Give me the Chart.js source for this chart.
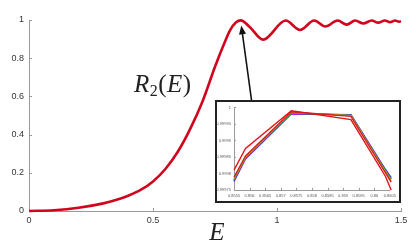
<!DOCTYPE html>
<html>
<head>
<meta charset="utf-8">
<script src="https://cdn.jsdelivr.net/npm/chart.js@4.4.0/dist/chart.umd.min.js"></script>
<style>
  html, body { margin: 0; padding: 0; background: #fff; }
  #wrap { position: relative; width: 416px; height: 245px; overflow: hidden; }
  #mainChart { position: absolute; left: 0; top: 0; }
  #insetBox { position: absolute; left: 215px; top: 100px; width: 186px; height: 103px; box-sizing: border-box; border: 2px solid #222; background: #fff; }
  #insetChart { display: block; }
</style>
</head>
<body>
<div id="wrap">
  <canvas id="mainChart" width="416" height="245"></canvas>
  <div id="insetBox"><canvas id="insetChart" width="182" height="99"></canvas></div>
</div>
<script>
// main curve R2(E)
const mainE = [0, 0.1, 0.2, 0.3, 0.35, 0.4, 0.45, 0.5, 0.55, 0.6, 0.65, 0.7, 0.75, 0.785, 0.81, 0.835, 0.854,
  0.891, 0.944, 1.035, 1.093, 1.15, 1.195, 1.245, 1.281, 1.315, 1.348, 1.382, 1.408, 1.435, 1.456, 1.476, 1.492, 1.5];
const mainR = [0, 0.004, 0.017, 0.04, 0.057, 0.08, 0.11, 0.155, 0.22, 0.31, 0.43, 0.575, 0.755, 0.87, 0.945, 0.988, 0.998,
  0.962, 0.897, 0.997, 0.948, 0.997, 0.966, 0.997, 0.976, 0.997, 0.982, 0.997, 0.986, 0.997, 0.989, 0.997, 0.991, 0.994];

const mainXTicks = [0, 0.5, 1, 1.5];
const mainXLabels = ['0', '0.5', '1', '1.5'];
const mainYTicks = [0, 0.2, 0.4, 0.6, 0.8, 1];
const mainYLabels = ['0', '0.2', '0.4', '0.6', '0.8', '1'];
const peakE = 0.854;
const peakR = 0.998;

// inset: zoom on the first peak
const insetE = [0.8555, 0.85587, 0.85734, 0.85925, 0.86036, 0.86054];
const insetRed = [0.99981, 0.999876, 0.99999, 0.999963, 0.999791, 0.99975];
const insetDarkRed = [0.999788, 0.999853, 0.999987, 0.999973, 0.999802, 0.999774];
const insetOrange = [0.999784, 0.99985, 0.999985, 0.999975, 0.999805, 0.999778];
const insetGreen = [0.999781, 0.999848, 0.999983, 0.999976, 0.999808, 0.999782];
const insetBlue = [0.999778, 0.999846, 0.999982, 0.999977, 0.99981, 0.999785];
const insetPurple = [0.999775, 0.999844, 0.99998, 0.999978, 0.999812, 0.999788];

const insetXTicks = [0.8555, 0.856, 0.8565, 0.857, 0.8575, 0.858, 0.8585, 0.859, 0.8595, 0.86, 0.8605];
const insetXLabels = ['0.8555', '0.856', '0.8565', '0.857', '0.8575', '0.858', '0.8585', '0.859', '0.8595', '0.86', '0.8605'];
const insetYTicks = [0.99975, 0.9998, 0.99985, 0.9999, 0.99995, 1];
const insetYLabels = ['0.99975', '0.9998', '0.99985', '0.9999', '0.99995', '1'];

const AXIS = '#9a9a9a';
const toPoints = (xs, ys) => xs.map((x, i) => ({ x, y: ys[i] }));

function innerTicks(id, xt, yt, len) {
  return {
    id,
    beforeDatasetsDraw(chart) {
      const { ctx, chartArea: a, scales: { x, y } } = chart;
      ctx.save();
      ctx.strokeStyle = AXIS;
      ctx.lineWidth = 1;
      ctx.beginPath();
      xt.forEach(v => {
        const px = Math.round(x.getPixelForValue(v)) + 0.5;
        ctx.moveTo(px, a.bottom);
        ctx.lineTo(px, a.bottom - len);
      });
      yt.forEach(v => {
        const py = Math.round(y.getPixelForValue(v)) + 0.5;
        ctx.moveTo(a.left, py);
        ctx.lineTo(a.left + len, py);
      });
      ctx.stroke();
      ctx.restore();
    }
  };
}

const mainDecor = {
  id: 'mainDecor',
  afterDraw(chart) {
    const { ctx, scales: { x, y } } = chart;
    ctx.save();
    ctx.fillStyle = '#222';
    ctx.textBaseline = 'alphabetic';

    // R_2(E)
    let tx = 134;
    const by = 92;
    const parts = [
      ['italic 25px "Liberation Serif"', 'R', 0],
      ['16px "Liberation Serif"', '2', 4],
      ['25px "Liberation Serif"', '(', 0],
      ['italic 25px "Liberation Serif"', 'E', 0],
      ['25px "Liberation Serif"', ')', 0]
    ];
    parts.forEach(([font, t, dy]) => {
      ctx.font = font;
      ctx.fillText(t, tx, by + dy);
      tx += ctx.measureText(t).width + 0.5;
    });

    // axis title E
    ctx.font = 'italic 25px "Liberation Serif"';
    ctx.textAlign = 'center';
    ctx.fillText('E', 217, 240);

    // arrow pointing at the first peak
    const tipX = x.getPixelForValue(peakE) + 0.5;
    const tipY = y.getPixelForValue(peakR) + 5;
    const baseX = 251.5, baseY = 100;
    const ang = Math.atan2(tipY - baseY, tipX - baseX);
    const hl = 9, hw = 3.5;
    ctx.strokeStyle = '#111';
    ctx.lineWidth = 1.6;
    ctx.beginPath();
    ctx.moveTo(baseX, baseY);
    ctx.lineTo(tipX - Math.cos(ang) * hl * 0.8, tipY - Math.sin(ang) * hl * 0.8);
    ctx.stroke();
    ctx.fillStyle = '#111';
    ctx.beginPath();
    ctx.moveTo(tipX, tipY);
    ctx.lineTo(tipX - Math.cos(ang) * hl + Math.sin(ang) * hw, tipY - Math.sin(ang) * hl - Math.cos(ang) * hw);
    ctx.lineTo(tipX - Math.cos(ang) * hl - Math.sin(ang) * hw, tipY - Math.sin(ang) * hl + Math.cos(ang) * hw);
    ctx.closePath();
    ctx.fill();
    ctx.restore();
  }
};

new Chart(document.getElementById('mainChart'), {
  type: 'line',
  data: {
    datasets: [{
      data: toPoints(mainE, mainR),
      borderColor: '#d0051d',
      borderWidth: 2.6,
      pointRadius: 0,
      cubicInterpolationMode: 'monotone',
      clip: false
    }]
  },
  options: {
    responsive: false,
    animation: false,
    layout: { padding: { top: 20, right: 15, left: 0, bottom: 0 } },
    plugins: { legend: { display: false }, tooltip: { enabled: false } },
    scales: {
      x: {
        type: 'linear', min: 0, max: 1.5,
        afterFit: s => { s.height = 34; },
        afterBuildTicks: s => { s.ticks = mainXTicks.map(v => ({ value: v })); },
        grid: { display: false, drawTicks: false },
        border: { color: AXIS, width: 1 },
        ticks: { padding: 4, color: '#333', maxRotation: 0, autoSkip: false,
          font: { family: 'Liberation Sans', size: 9 }, callback: (v, i) => mainXLabels[i] }
      },
      y: {
        type: 'linear', min: 0, max: 1,
        afterFit: s => { s.width = 29; },
        afterBuildTicks: s => { s.ticks = mainYTicks.map(v => ({ value: v })); },
        grid: { display: false, drawTicks: false },
        border: { color: AXIS, width: 1 },
        ticks: { padding: 5, color: '#333', autoSkip: false,
          font: { family: 'Liberation Sans', size: 9 }, callback: (v, i) => mainYLabels[i] }
      }
    }
  },
  plugins: [innerTicks('mainTicks', mainXTicks, mainYTicks, 3), mainDecor]
});

const insetSeries = [
  [insetRed, '#e0141c'],
  [insetDarkRed, '#c8261e'],
  [insetOrange, '#f08a1a'],
  [insetGreen, '#23a530'],
  [insetBlue, '#2a3fd8'],
  [insetPurple, '#c21fe6']
];

new Chart(document.getElementById('insetChart'), {
  type: 'line',
  data: {
    datasets: insetSeries.map(([vals, color]) => ({
      data: toPoints(insetE, vals),
      borderColor: color,
      borderWidth: 1.4,
      pointRadius: 0,
      tension: 0,
      clip: false
    }))
  },
  options: {
    responsive: false,
    animation: false,
    layout: { padding: { top: 4, right: 7, left: 0, bottom: 0 } },
    plugins: { legend: { display: false }, tooltip: { enabled: false } },
    scales: {
      x: {
        type: 'linear', min: 0.8555, max: 0.8605,
        afterFit: s => { s.height = 11; },
        afterBuildTicks: s => { s.ticks = insetXTicks.map(v => ({ value: v })); },
        grid: { display: false, drawTicks: false },
        border: { color: AXIS, width: 1 },
        ticks: { padding: 3, color: '#555', maxRotation: 0, autoSkip: false,
          font: { family: 'Liberation Sans', size: 4 }, callback: (v, i) => insetXLabels[i] }
      },
      y: {
        type: 'linear', min: 0.99975, max: 1,
        afterFit: s => { s.width = 17; },
        afterBuildTicks: s => { s.ticks = insetYTicks.map(v => ({ value: v })); },
        grid: { display: false, drawTicks: false },
        border: { color: AXIS, width: 1 },
        ticks: { padding: 3, color: '#555', autoSkip: false,
          font: { family: 'Liberation Sans', size: 4 }, callback: (v, i) => insetYLabels[i] }
      }
    }
  },
  plugins: [innerTicks('insetTicks', insetXTicks, insetYTicks, 2)]
});
</script>
</body>
</html>
